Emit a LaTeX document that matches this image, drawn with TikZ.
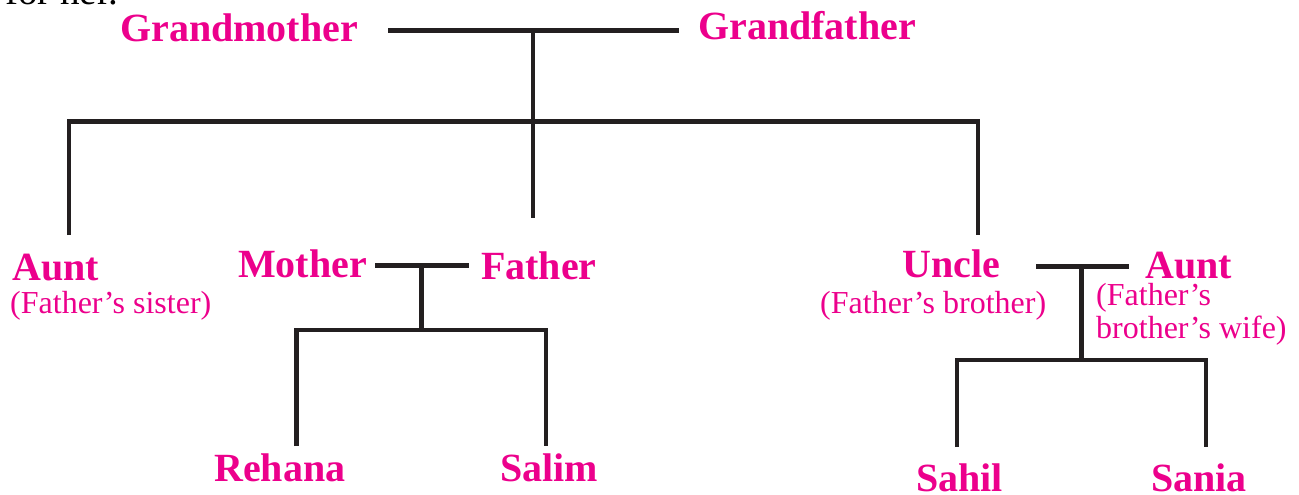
\documentclass[tikz,border=0pt]{standalone}
\usepackage{fontspec}
\setmainfont{Liberation Serif}
\definecolor{mag}{HTML}{EC008C}
\definecolor{ink}{HTML}{231F20}
\begin{document}
\begin{tikzpicture}[x=1pt,y=-1pt,
  person/.style={text=mag, font=\fontsize{40}{40}\selectfont\bfseries, inner sep=0pt, anchor=base west},
  note/.style={text=mag, font=\fontsize{32}{34}\selectfont, inner sep=0pt, anchor=base west},
  body/.style={text=black, font=\fontsize{39}{40}\selectfont, inner sep=0pt, anchor=base east},
  link/.style={draw=ink, line width=4.5pt}]
\useasboundingbox (0,0) rectangle (1299,495);
\clip (0,0) rectangle (1299,495);

% cut-off body text at the top
\node[body] (forher) at (118,5) {for her.};

% people
\node[person] (gm) at (120,42) {Grandmother};
\node[person] (gf) at (698,40) {Grandfather};
\node[person] (aunt) at (12,280) {Aunt};
\node[note] (auntnote) at (10,313) {(Father’s sister)};
\node[person] (mother) at (238,277) {Mother};
\node[person] (father) at (481,279) {Father};
\node[person] (uncle) at (902,277) {Uncle};
\node[note] (unclenote) at (820,313) {(Father’s brother)};
\node[person] (aunttwo) at (1145,278) {Aunt};
\node[note] (aunttwonotea) at (1096,305) {(Father’s};
\node[note] (aunttwonoteb) at (1096,338) {brother’s wife)};
\node[person] (rehana) at (214,481) {Rehana};
\node[person] (salim) at (500,481) {Salim};
\node[person] (sahil) at (916,491) {Sahil};
\node[person] (sania) at (1151,491) {Sania};

% junction coordinates
\coordinate (gmL) at (388,30.5);
\coordinate (gfR) at (679,30.5);
\coordinate (top) at (533,30.5);
\coordinate (barL) at (69,121.5);
\coordinate (barR) at (978,121.5);
\coordinate (auntEnd) at (69,235);
\coordinate (uncleEnd) at (978,235);
\coordinate (fatherEnd) at (533,218);

\coordinate (mfL) at (375,265.5);
\coordinate (mfR) at (469,265.5);
\coordinate (mfM) at (421.5,265.5);
\coordinate (barTwoM) at (421.5,330);
\coordinate (barTwoL) at (296.5,330);
\coordinate (barTwoR) at (546,330);
\coordinate (rehanaEnd) at (296.5,446);
\coordinate (salimEnd) at (546,446);

\coordinate (uaL) at (1036,266.5);
\coordinate (uaR) at (1129,266.5);
\coordinate (uaM) at (1081.5,266.5);
\coordinate (barThreeM) at (1081.5,360);
\coordinate (barThreeL) at (957,360);
\coordinate (barThreeR) at (1206,360);
\coordinate (sahilEnd) at (957,447);
\coordinate (saniaEnd) at (1206,447);

% connectors
\draw[link] (gmL) -- (gfR);
\draw[link] (top) -- (fatherEnd);
\draw[link] (auntEnd) -- (barL) -- (barR) -- (uncleEnd);

\draw[link] (mfL) -- (mfR);
\draw[link] (mfM) -- (barTwoM);
\draw[link] (rehanaEnd) -- (barTwoL) -- (barTwoR) -- (salimEnd);

\draw[link] (uaL) -- (uaR);
\draw[link] (uaM) -- (barThreeM);
\draw[link] (sahilEnd) -- (barThreeL) -- (barThreeR) -- (saniaEnd);
\end{tikzpicture}
\end{document}
